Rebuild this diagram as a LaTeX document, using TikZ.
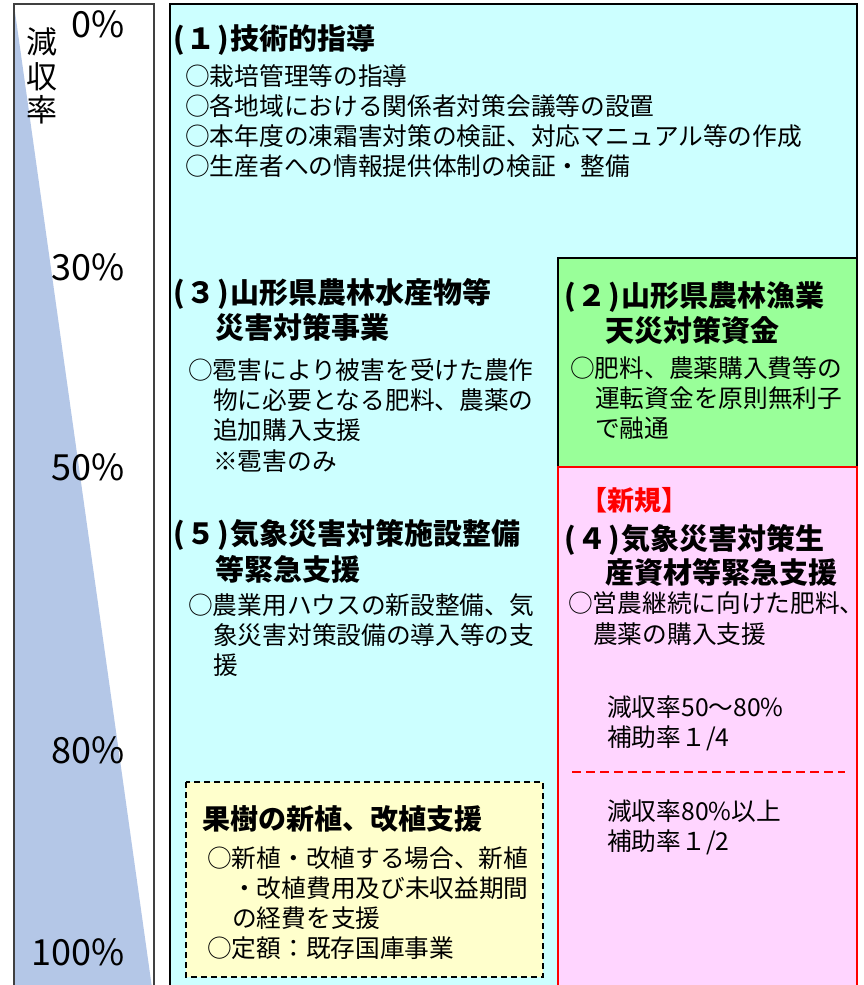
\documentclass[tikz,border=0pt]{standalone}
\usepackage{fontspec}
\newfontfamily\jp{Noto Sans CJK JP}
\newcommand\hw[1]{\makebox[0.5em][c]{#1}}
\definecolor{tri}{HTML}{B4C7E7}
\definecolor{cyanbg}{HTML}{CCFFFF}
\definecolor{greenbg}{HTML}{99FF99}
\definecolor{pinkbg}{HTML}{FFD5FF}
\definecolor{yellowbg}{HTML}{FFFFCC}
\definecolor{frame}{HTML}{404040}
\begin{document}
\begin{tikzpicture}[x=1pt,y=-1pt,
  ttl/.style={anchor=base west,inner sep=0,font={\jp\bfseries\fontsize{29}{29}\selectfont}},
  bdy/.style={anchor=base west,inner sep=0,font={\jp\fontsize{24.7}{25}\selectfont}},
  pct/.style={anchor=base east,inner sep=0,font={\jp\fontsize{36}{36}\selectfont}},
  vlab/.style={anchor=center,inner sep=0,font={\jp\fontsize{31}{31}\selectfont}},
  boxline/.style={line width=1.6pt},
]
\useasboundingbox (0,0) rectangle (863,985);
\clip (0,0) rectangle (863,985);
\fill[white] (0,0) rectangle (863,985);
% left scale box
\fill[white] (14,4) rectangle (154,995);
\fill[tri] (15,12) -- (153,995) -- (15,995) -- cycle;
\draw[frame,boxline] (14,4) rectangle (154,995);
\node[vlab] (v1) at (42,42) {減};
\node[vlab] (v2) at (42,77) {収};
\node[vlab] (v3) at (42,110) {率};
\node[pct] (p0) at (125,37) {0\%};
\node[pct] (p30) at (125,280) {30\%};
\node[pct] (p50) at (125,480) {50\%};
\node[pct] (p80) at (125,763) {80\%};
\node[pct] (p100) at (125,965) {100\%};
% main boxes
\draw[black,boxline,fill=cyanbg] (170,4) rectangle (857,995);
\draw[black,boxline,fill=greenbg] (558,258) rectangle (857,467);
\draw[red,line width=2pt,fill=pinkbg] (558,467) rectangle (857,995);
\draw[red,line width=1.5pt,dash pattern=on 9pt off 5pt] (572,772) -- (845,772);
\draw[black,boxline,dash pattern=on 6pt off 4pt,fill=yellowbg] (186,782) rectangle (543,977);
% (1)
\node[ttl] (t1) at (172,49) {\hw{(}１\hw{)}技術的指導};
\node[bdy] (b1a) at (185,85.5) {○栽培管理等の指導};
\node[bdy] (b1b) at (185,115.5) {○各地域における関係者対策会議等の設置};
\node[bdy] (b1c) at (185,145.5) {○本年度の凍霜害対策の検証、対応マニュアル等の作成};
\node[bdy] (b1d) at (185,175.5) {○生産者への情報提供体制の検証・整備};
% (3)
\node[ttl] (t3a) at (172,303) {\hw{(}３\hw{)}山形県農林水産物等};
\node[ttl] (t3b) at (215,338) {災害対策事業};
\node[bdy] (b3a) at (188,379.5) {○雹害により被害を受けた農作};
\node[bdy] (b3b) at (213,409.5) {物に必要となる肥料、農薬の};
\node[bdy] (b3c) at (213,439.5) {追加購入支援};
\node[bdy] (b3d) at (213,470.5) {※雹害のみ};
% (5)
\node[ttl] (t5a) at (172,544) {\hw{(}５\hw{)}気象災害対策施設整備};
\node[ttl] (t5b) at (215,580) {等緊急支援};
\node[bdy] (b5a) at (188,614.5) {○農業用ハウスの新設整備、気};
\node[bdy] (b5b) at (213,644.5) {象災害対策設備の導入等の支};
\node[bdy] (b5c) at (213,674.5) {援};
% (2)
\node[ttl] (t2a) at (563,306) {\hw{(}２\hw{)}山形県農林漁業};
\node[ttl] (t2b) at (605,341) {天災対策資金};
\node[bdy] (b2a) at (570,377.5) {○肥料、農薬購入費等の};
\node[bdy] (b2b) at (595,407.5) {運転資金を原則無利子};
\node[bdy] (b2c) at (595,437.5) {で融通};
% (4)
\node[anchor=center,inner sep=0,text=red,font={\jp\bfseries\fontsize{27}{27}\selectfont}] (new) at (634,500) {【新規】};
\node[ttl] (t4a) at (563,549) {\hw{(}４\hw{)}気象災害対策生};
\node[ttl] (t4b) at (605,583) {産資材等緊急支援};
\node[bdy] (b4a) at (568,612.5) {○営農継続に向けた肥料、};
\node[bdy] (b4b) at (593,643.5) {農薬の購入支援};
\node[bdy] (r1a) at (607,716.5) {減収率50～80\%};
\node[bdy] (r1b) at (607,746.5) {補助率１/4};
\node[bdy] (r2a) at (607,820.5) {減収率80\%以上};
\node[bdy] (r2b) at (607,850.5) {補助率１/2};
% fruit trees
\node[ttl,font={\jp\bfseries\fontsize{28}{28}\selectfont}] (ty) at (202,829) {果樹の新植、改植支援};
\node[bdy] (bya) at (207,867.5) {○新植・改植する場合、新植};
\node[bdy] (byb) at (232,897.5) {・改植費用及び未収益期間};
\node[bdy] (byc) at (232,927.5) {の経費を支援};
\node[bdy] (byd) at (207,957.5) {○定額：既存国庫事業};
\end{tikzpicture}
\end{document}
